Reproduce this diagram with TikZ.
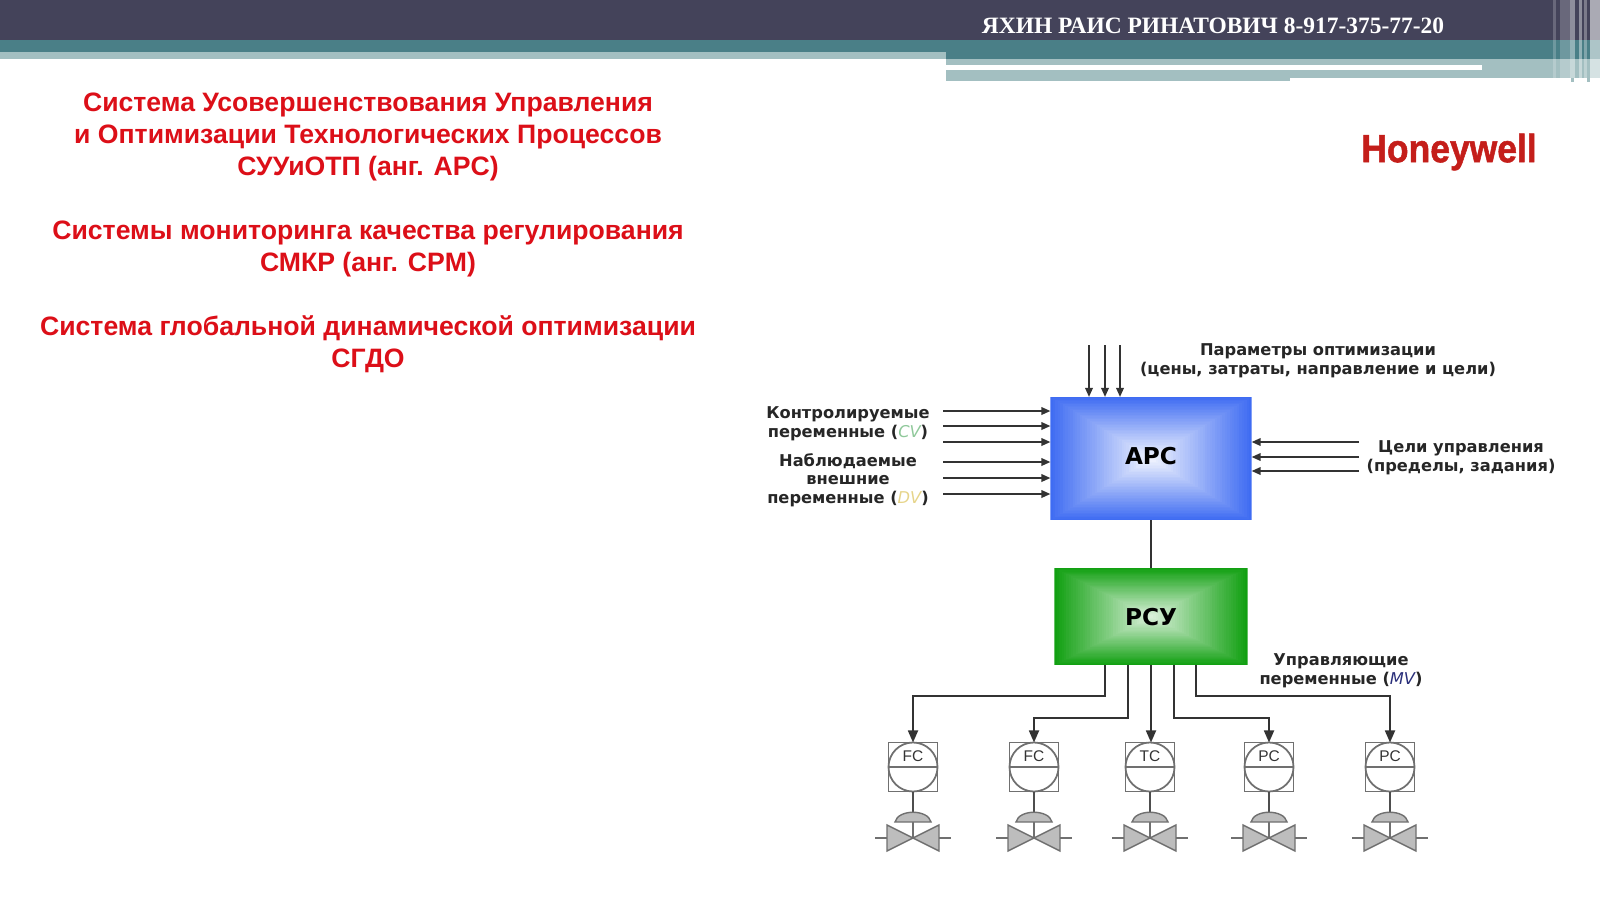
\documentclass[tikz,border=0pt]{standalone}
\usepackage{fontspec}
\usepackage{xcolor}
\setmainfont{Liberation Sans}
\newfontfamily\headfont{Liberation Serif}
\newfontfamily\labelfont{DejaVu Sans}
\newfontfamily\logofont[BoldFeatures={FakeBold=1.4}]{Liberation Sans}
\usetikzlibrary{arrows.meta, positioning, calc}
\definecolor{headdark}{HTML}{44435A}
\definecolor{headteal}{HTML}{4A7F87}
\definecolor{headlight}{HTML}{A3BFC1}
\definecolor{titlered}{HTML}{DC0F18}
\definecolor{logored}{HTML}{C41E1A}
\definecolor{apcblue}{HTML}{3F6CF2}
\definecolor{rsugreen}{HTML}{12A012}
\definecolor{instgray}{HTML}{707070}
\definecolor{valvegray}{HTML}{BDBDBD}
\definecolor{cvgreen}{HTML}{8FC89A}
\definecolor{dvyellow}{HTML}{E6D48A}
\definecolor{mvnavy}{HTML}{2A2F7A}

\begin{document}
\begin{tikzpicture}[
    x=0.01cm, y=-0.01cm,
    >=Stealth,
    title/.style={font=\bfseries\fontsize{7.57}{9.08}\selectfont, text=titlered, align=center, inner sep=0pt},
    sidelabel/.style={font=\labelfont\bfseries\fontsize{4.62}{5.3}\selectfont, text=black!85, align=center, inner sep=0pt},
    glowbox/.style={minimum width=#1, inner sep=0pt, outer sep=0pt, font=\labelfont\bfseries\fontsize{6.6}{8}\selectfont},
    sig/.style={line width=0.5pt, color=black!80, arrows={-Stealth[length=0.9mm, width=0.75mm, inset=0pt]}},
    bus/.style={line width=0.5pt, color=black!80},
    busarrow/.style={bus, arrows={-Stealth[length=1.2mm, width=1mm, inset=0pt]}},
    instbox/.style={draw=instgray, line width=0.5pt, minimum size=0.49cm, inner sep=0pt, outer sep=0pt},
    instcirc/.style={draw=instgray, line width=0.5pt, circle, minimum size=0.49cm, inner sep=0pt, outer sep=0pt},
    instline/.style={draw=instgray, line width=0.4pt},
    instlabel/.style={font=\fontsize{4.4}{5}\selectfont, text=black!80, inner sep=0pt},
    valve/.style={draw=instgray, fill=valvegray, line width=0.4pt},
]
\useasboundingbox (0,0) rectangle (1600,900);

% Header bands
\fill[headdark] (0,0) rectangle (1600,40);
\fill[headteal] (0,40) rectangle (1600,59);
\fill[headlight] (0,52) rectangle (946,59);
\fill[headlight] (946,59) rectangle (1600,78);
\fill[headlight] (946,78) rectangle (1290,81);
\fill[white] (946,65) rectangle (1482,70);
\foreach \xa/\xb/\op in {1553/1556/0.2, 1560/1570/0.2, 1570/1575/0.4, 1579/1582/0.4, 1584/1587/0.3, 1590/1600/0.55}
  \fill[white, opacity=\op] (\xa,0) rectangle (\xb,78);
\foreach \xa/\xb in {1571/1574, 1587/1590}
  \fill[headlight] (\xa,78) rectangle (\xb,82);
\node[font=\headfont\bfseries\fontsize{6.67}{7.5}\selectfont, text=white, inner sep=0pt] (author) at (1213,26) {ЯХИН РАИС РИНАТОВИЧ 8-917-375-77-20};

% Titles on the left
\node[title] (apctitle) at (368,137) {Система Усовершенствования Управления\\и Оптимизации Технологических Процессов\\СУУиОТП (анг. APC)};
\node[title] (cpmtitle) at (368,249) {Системы мониторинга качества регулирования\\СМКР (анг. CPM)};
\node[title] (gdotitle) at (368,344.5) {Система глобальной динамической оптимизации\\СГДО};
\node[font=\logofont\bfseries\fontsize{11.2}{13}\selectfont, text=logored, inner sep=0pt, xscale=0.9] (logo) at (1449,152) {Honeywell};

% Control blocks
\node[glowbox=2.01cm, minimum height=1.23cm, text depth=0.06cm, path picture={
    \foreach \i in {0,...,40}
      \fill[white!\the\numexpr\i*23/10\relax!apcblue] ($(path picture bounding box.south west)!\i/82!(path picture bounding box.north east)$) rectangle ($(path picture bounding box.north east)!\i/82!(path picture bounding box.south west)$);
  }] (apc) at (1151,458.5) {АРС};
\node[glowbox=1.93cm, minimum height=0.97cm, below=0.48cm of apc, path picture={
    \foreach \i in {0,...,40}
      \fill[white!\the\numexpr\i*21/10\relax!rsugreen] ($(path picture bounding box.south west)!\i/82!(path picture bounding box.north east)$) rectangle ($(path picture bounding box.north east)!\i/82!(path picture bounding box.south west)$);
  }] (rsu) {РСУ};
\draw[bus] (apc) -- (rsu);

% Labels
\node[sidelabel] (optlabel) at (1318,361) {Параметры оптимизации\\(цены, затраты, направление и цели)};
\node[sidelabel] (cvlabel) at (848,424) {Контролируемые\\переменные ({\mdseries\color{cvgreen}\itshape CV})};
\node[sidelabel] (dvlabel) at (848,480) {Наблюдаемые\\внешние\\переменные ({\mdseries\color{dvyellow}\itshape DV})};
\node[sidelabel] (goallabel) at (1461,458) {Цели управления\\(пределы, задания)};
\node[sidelabel] (mvlabel) at (1341,671) {Управляющие\\переменные ({\mdseries\color{mvnavy}\itshape MV})};

% Inputs of the upper block
\foreach \name/\xc in {opta/1089, optb/1105, optc/1120} {
  \coordinate (\name) at (\xc,345);
  \draw[sig] (\name) -- (\name |- apc.north);
}
\foreach \name/\yc in {ina/411, inb/426, inc/442, ind/462, ine/478, inf/494} {
  \coordinate (\name) at (943,\yc);
  \draw[sig] (\name) -- (\name -| apc.west);
}
\foreach \name/\yc in {goala/442, goalb/457, goalc/471} {
  \coordinate (\name) at (1359,\yc);
  \draw[sig] (\name) -- (\name -| apc.east);
}

% Instruments and valves
\foreach \name/\lab/\xc in {fca/FC/913, fcb/FC/1034, tc/TC/1150, pca/PC/1269, pcb/PC/1390} {
  \node[instbox] (\name) at (\xc,767) {};
  \node[instcirc] (\name c) at (\xc,767) {};
  \draw[instline] (\name c.west) -- (\name c.east);
  \node[instlabel] (\name l) at (\xc,756) {\lab};
  \coordinate (\name v) at (\xc,838);
  \coordinate (\name d) at (\xc,822);
  \draw[bus, color=instgray!70!black] (\name.south) -- (\name d);
  \draw[instline] (\name d) -- (\name v);
  \draw[valve] (\name d) ++(-18,0) .. controls +(3,-13) and +(-3,-13) .. ++(36,0) -- cycle;
  \draw[valve] (\name v) -- ++(-26,-13) -- ++(0,26) -- cycle;
  \draw[valve] (\name v) -- ++(26,-13) -- ++(0,26) -- cycle;
  \draw[instline] (\name v) ++(-26,0) -- ++(-12,0);
  \draw[instline] (\name v) ++(26,0) -- ++(12,0);
}

% Outputs of the lower block
\coordinate (busa) at (1105,665);
\coordinate (busb) at (1128,665);
\coordinate (busc) at (1151,665);
\coordinate (busd) at (1174,665);
\coordinate (buse) at (1196,665);
\coordinate (kneea) at (1105,696);
\coordinate (kneeb) at (1128,718);
\coordinate (kneed) at (1174,718);
\coordinate (kneee) at (1196,696);
\draw[busarrow] (busa) -- (kneea) -| (fca.north);
\draw[busarrow] (busb) -- (kneeb) -| (fcb.north);
\draw[busarrow] (busc) -- (busc |- tc.north);
\draw[busarrow] (busd) -- (kneed) -| (pca.north);
\draw[busarrow] (buse) -- (kneee) -| (pcb.north);

\end{tikzpicture}
\end{document}
